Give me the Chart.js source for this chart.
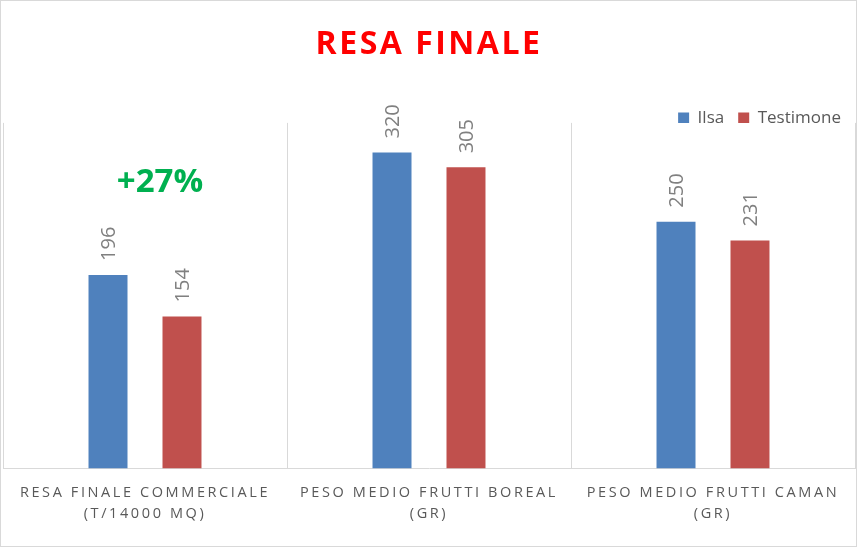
<!DOCTYPE html>
<html>
<head>
<meta charset="utf-8">
<script src="https://cdn.jsdelivr.net/npm/chart.js@4"></script>
<style>
  html, body { margin: 0; padding: 0; background: #fff; }
  #wrap { width: 855px; height: 545px; border: 1px solid #d9d9d9; position: relative; }
</style>
</head>
<body>
<div id="wrap"><canvas id="chart"></canvas></div>
<script>
// Data
const categories = [
  ["RESA FINALE COMMERCIALE", "(T/14000 MQ)"],
  ["PESO MEDIO FRUTTI BOREAL", "(GR)"],
  ["PESO MEDIO FRUTTI CAMAN", "(GR)"]
];
const ilsa = [196, 320, 250];
const testimone = [154, 305, 231];
const seriesNames = ["Ilsa", "Testimone"];
const chartTitle = "RESA FINALE";
const gainText = "+27%";
const gainValue = 290; // height (in data units) where the +27% note sits

// Vertical value labels above each bar, plus the +27% note
const barLabels = {
  id: 'barLabels',
  afterDatasetsDraw(chart) {
    const ctx = chart.ctx;
    ctx.save();
    ctx.letterSpacing = '0px';
    ctx.font = '20px "Open Sans"';
    ctx.fillStyle = '#808080';
    ctx.textAlign = 'left';
    ctx.textBaseline = 'middle';
    chart.data.datasets.forEach((ds, i) => {
      chart.getDatasetMeta(i).data.forEach((bar, j) => {
        ctx.save();
        ctx.translate(bar.x, bar.y - 14);
        ctx.rotate(-Math.PI / 2);
        ctx.fillText(String(ds.data[j]), 0, 1);
        ctx.restore();
      });
    });

    const m0 = chart.getDatasetMeta(0).data[0];
    const m1 = chart.getDatasetMeta(1).data[0];
    ctx.font = 'bold 33px "Open Sans"';
    ctx.fillStyle = '#00b050';
    ctx.textAlign = 'center';
    ctx.fillText(gainText, (m0.x + m1.x) / 2 + 15, chart.scales.y.getPixelForValue(gainValue));
    ctx.restore();
  }
};

// Letter spacing for title and category labels, tighter legend block
function spaced(obj, method, spacing) {
  const orig = obj[method];
  obj[method] = function() {
    const ctx = this.ctx;
    ctx.save();
    ctx.letterSpacing = spacing;
    orig.apply(this, arguments);
    ctx.restore();
  };
}
const tweaks = {
  id: 'tweaks',
  beforeLayout(chart) {
    if (chart.legend && !chart.legend._cut) {
      const fit = chart.legend.fit;
      chart.legend.fit = function() {
        fit.apply(this, arguments);
        this.height -= 13.5;
      };
      chart.legend._cut = true;
    }
    if (chart.titleBlock && !chart.titleBlock._spaced) {
      spaced(chart.titleBlock, 'draw', '2.5px');
      chart.titleBlock._spaced = true;
    }
  },
  afterLayout(chart) {
    const sx = chart.scales.x;
    if (sx && !sx._spaced) {
      spaced(sx, 'drawLabels', '2.6px');
      sx._spaced = true;
    }
  }
};

new Chart(document.getElementById('chart'), {
  type: 'bar',
  data: {
    labels: categories,
    datasets: [
      {
        label: seriesNames[0],
        data: ilsa,
        backgroundColor: '#4f81bd',
        categoryPercentage: 0.521,
        barPercentage: 0.527
      },
      {
        label: seriesNames[1],
        data: testimone,
        backgroundColor: '#c0504d',
        categoryPercentage: 0.521,
        barPercentage: 0.527
      }
    ]
  },
  options: {
    responsive: true,
    maintainAspectRatio: false,
    animation: false,
    layout: { padding: { left: 2, right: 1, top: 0, bottom: 8 } },
    plugins: {
      title: {
        display: true,
        text: chartTitle,
        color: '#ff0000',
        font: { family: '"Open Sans"', size: 32, weight: 'bold' },
        padding: { top: 25, bottom: 31 }
      },
      legend: {
        position: 'top',
        align: 'end',
        labels: {
          boxWidth: 11,
          boxHeight: 11,
          padding: 14,
          color: '#595959',
          font: { family: '"Open Sans"', size: 17 }
        }
      },
      tooltip: { enabled: false }
    },
    scales: {
      x: {
        grid: { color: '#d9d9d9', drawTicks: false, offset: true },
        border: { color: '#d9d9d9' },
        ticks: {
          color: '#595959',
          font: { family: '"Open Sans"', size: 14.5, lineHeight: 1.5 },
          padding: 13,
          maxRotation: 0,
          autoSkip: false
        }
      },
      y: {
        display: false,
        min: 0,
        max: 350
      }
    }
  },
  plugins: [barLabels, tweaks]
});
</script>
</body>
</html>
